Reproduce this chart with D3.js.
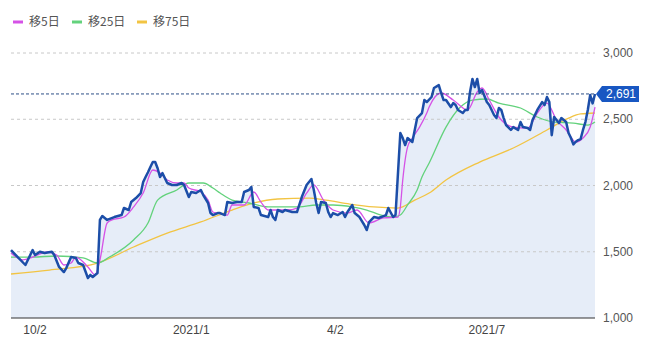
<!DOCTYPE html>
<html>
<head>
<meta charset="utf-8">
<script src="https://d3js.org/d3.v7.min.js"></script>
<style>
  body { margin: 0; background: #fff; }
  text { font-family: "Liberation Sans", Arial, sans-serif; }
</style>
</head>
<body>
<div id="chart"></div>
<script>
// [trading day index, price]
const closePrices = [[0,1513],[2,1475],[6,1400],[9,1513],[10,1475],[12,1500],[14,1490],[17,1500],[18,1475],[20,1385],[22,1347],[23,1377],[25,1460],[27,1453],[28,1415],[30,1400],[32,1302],[33,1325],[34,1310],[36,1340],[37,1740],[38,1770],[39,1755],[40,1740],[43,1762],[46,1777],[47,1830],[49,1815],[50,1875],[52,1905],[54,1943],[55,2026],[56,2064],[57,2100],[58,2140],[59,2177],[60,2177],[61,2130],[62,2064],[63,2094],[64,2057],[65,2019],[67,2004],[69,2004],[71,2019],[72,2004],[74,1913],[75,1951],[77,1943],[79,1966],[80,1928],[82,1868],[83,1792],[84,1777],[86,1792],[87,1792],[89,1777],[90,1875],[92,1868],[94,1875],[96,1875],[97,1951],[99,1966],[100,1989],[101,1838],[103,1830],[104,1777],[107,1762],[108,1815],[109,1762],[110,1740],[111,1815],[113,1800],[114,1815],[117,1800],[119,1800],[121,1913],[123,2004],[125,2049],[126,1966],[127,1868],[128,1792],[129,1875],[131,1868],[132,1800],[133,1762],[134,1792],[136,1777],[138,1800],[139,1762],[140,1800],[142,1853],[143,1792],[145,1762],[147,1702],[148,1664],[149,1724],[151,1762],[153,1755],[154,1762],[156,1777],[157,1830],[159,1762],[160,1777],[162,2396],[163,2358],[164,2305],[165,2358],[167,2328],[168,2419],[169,2509],[171,2547],[172,2645],[173,2630],[175,2668],[176,2736],[178,2758],[179,2698],[180,2645],[181,2645],[183,2592],[184,2622],[185,2607],[186,2570],[188,2547],[189,2570],[190,2570],[191,2706],[192,2804],[193,2743],[194,2804],[195,2698],[196,2721],[198,2630],[199,2607],[201,2532],[202,2509],[203,2585],[204,2570],[205,2509],[206,2456],[208,2419],[209,2441],[211,2419],[212,2479],[213,2441],[215,2434],[216,2419],[217,2494],[219,2570],[221,2630],[222,2607],[223,2668],[224,2630],[225,2380],[226,2517],[227,2494],[228,2471],[229,2509],[231,2479],[232,2396],[233,2358],[234,2310],[235,2330],[236,2343],[237,2350],[238,2419],[239,2479],[240,2570],[241,2683],[242,2620],[243,2691]];

const ma5 = [[0,1490],[5,1438],[9,1460],[15,1498],[19,1475],[22,1400],[25,1415],[27,1460],[32,1385],[35,1325],[37,1438],[40,1717],[42,1740],[47,1762],[51,1838],[55,1943],[59,2117],[62,2094],[65,2041],[69,2019],[72,2019],[74,1981],[79,1951],[82,1890],[84,1800],[86,1792],[90,1777],[92,1853],[97,1853],[101,1951],[104,1875],[107,1815],[111,1815],[115,1815],[119,1830],[123,1943],[126,2004],[130,1890],[134,1815],[140,1792],[144,1815],[149,1717],[155,1755],[161,1762],[162,1838],[163,2041],[165,2290],[167,2358],[170,2441],[173,2547],[174,2592],[179,2698],[184,2645],[190,2570],[194,2706],[196,2736],[199,2645],[203,2517],[209,2441],[215,2434],[219,2547],[223,2622],[227,2494],[231,2419],[235,2328],[238,2358],[241,2441],[243,2592]];

const ma25 = [[0,1460],[9,1460],[19,1468],[30,1453],[36,1415],[41,1460],[51,1589],[57,1717],[61,1890],[69,1966],[74,2019],[80,2019],[84,1981],[87,1943],[92,1890],[99,1868],[107,1838],[120,1838],[127,1853],[134,1853],[142,1838],[148,1815],[154,1777],[159,1762],[162,1777],[165,1853],[169,1966],[171,2064],[174,2170],[181,2441],[187,2592],[192,2645],[198,2653],[203,2622],[212,2585],[219,2517],[226,2479],[234,2471],[240,2456],[243,2479]];

const ma75 = [[0,1332],[16,1362],[36,1415],[51,1536],[65,1641],[79,1725],[92,1815],[101,1868],[111,1898],[124,1905],[131,1890],[141,1860],[151,1838],[161,1830],[168,1890],[174,1943],[181,2041],[195,2177],[209,2283],[223,2419],[232,2509],[237,2540],[243,2547]];

const yTicks = [1000, 1500, 2000, 2500, 3000];
const xTickDays = [10, 75, 135, 198];
const xTickLabels = ["10/2", "2021/1", "4/2", "2021/7"];
const legendNames = ["移5日", "移25日", "移75日"];
const legendColors = ["#d552e6", "#63d27c", "#f2c443"];

const width = 652, height = 343;
const margin = {top: 53, right: 57, bottom: 25, left: 11};

let svg = d3.select("#chart")
    .append("svg")
    .attr("width", width)
    .attr("height", height);

let x = d3.scaleLinear()
    .domain([0, 243])
    .range([margin.left, width - margin.right]);

let y = d3.scaleLinear()
    .domain([1000, 3000])
    .range([height - margin.bottom, margin.top]);

// area under the close line
svg.append("path")
    .datum(closePrices)
    .attr("fill", "#e6edf8")
    .attr("d", d3.area()
        .x(function(d) { return x(d[0]); })
        .y0(y(1000))
        .y1(function(d) { return y(d[1]); }));

// horizontal grid
svg.append("g")
    .selectAll("line")
    .data(yTicks.slice(1))
    .enter()
    .append("line")
    .attr("x1", x(0))
    .attr("x2", x(243))
    .attr("y1", function(d) { return y(d); })
    .attr("y2", function(d) { return y(d); })
    .attr("stroke", "#c8c8c8")
    .attr("stroke-dasharray", "3,3");

// right axis labels
svg.append("g")
    .selectAll("text")
    .data(yTicks)
    .enter()
    .append("text")
    .attr("x", width - margin.right + 8)
    .attr("y", function(d) { return y(d); })
    .attr("dy", "0.35em")
    .style("text-anchor", "start")
    .style("font-size", "12px")
    .style("fill", "#555")
    .text(function(d) { return d3.format(",")(d); });

// bottom axis
svg.append("line")
    .attr("x1", x(0))
    .attr("x2", x(243))
    .attr("y1", y(1000))
    .attr("y2", y(1000))
    .attr("stroke", "#333")
    .attr("stroke-width", 1.2);

svg.append("g")
    .selectAll("text")
    .data(xTickDays)
    .enter()
    .append("text")
    .attr("x", function(d) { return x(d); })
    .attr("y", height - 9)
    .style("text-anchor", "middle")
    .style("font-size", "12px")
    .style("fill", "#444")
    .text(function(d, i) { return xTickLabels[i]; });

let line = d3.line()
    .x(function(d) { return x(d[0]); })
    .y(function(d) { return y(d[1]); });

// moving averages
[ma75, ma25, ma5].forEach(function(series, i) {
    svg.append("path")
        .datum(series)
        .attr("fill", "none")
        .attr("stroke", legendColors[2 - i])
        .attr("stroke-width", 1.3)
        .attr("d", line.curve(d3.curveMonotoneX));
});

// close
svg.append("path")
    .datum(closePrices)
    .attr("fill", "none")
    .attr("stroke", "#1c4ea8")
    .attr("stroke-width", 2.5)
    .attr("stroke-linejoin", "round")
    .attr("d", line.curve(d3.curveLinear));

// last price marker
let last = closePrices[closePrices.length - 1];
svg.append("line")
    .attr("x1", x(0))
    .attr("x2", x(243))
    .attr("y1", y(last[1]))
    .attr("y2", y(last[1]))
    .attr("stroke", "#2d4f86")
    .attr("stroke-dasharray", "3,2");

let lx = x(243) + 1, ly = y(last[1]);
svg.append("path")
    .attr("d", `M${lx},${ly} L${lx + 6},${ly - 8} L${lx + 43},${ly - 8} L${lx + 43},${ly + 8} L${lx + 6},${ly + 8} Z`)
    .attr("fill", "#1857c2");

svg.append("text")
    .attr("x", lx + 25)
    .attr("y", ly)
    .attr("dy", "0.35em")
    .style("text-anchor", "middle")
    .style("font-size", "12px")
    .style("fill", "#fff")
    .text(d3.format(",")(last[1]));

// legend
let legend = svg.append("g")
    .selectAll("g")
    .data(legendNames)
    .enter()
    .append("g")
    .attr("transform", function(d, i) { return `translate(${[13, 72, 137][i]}, 22)`; });

legend.append("line")
    .attr("x1", 0)
    .attr("x2", 10)
    .attr("stroke", function(d, i) { return legendColors[i]; })
    .attr("stroke-width", 3);

legend.append("text")
    .attr("x", 16)
    .attr("dy", "0.35em")
    .style("font-family", "'Noto Sans CJK JP', sans-serif")
    .style("font-size", "12px")
    .style("fill", "#555")
    .text(function(d) { return d; });
</script>
</body>
</html>
